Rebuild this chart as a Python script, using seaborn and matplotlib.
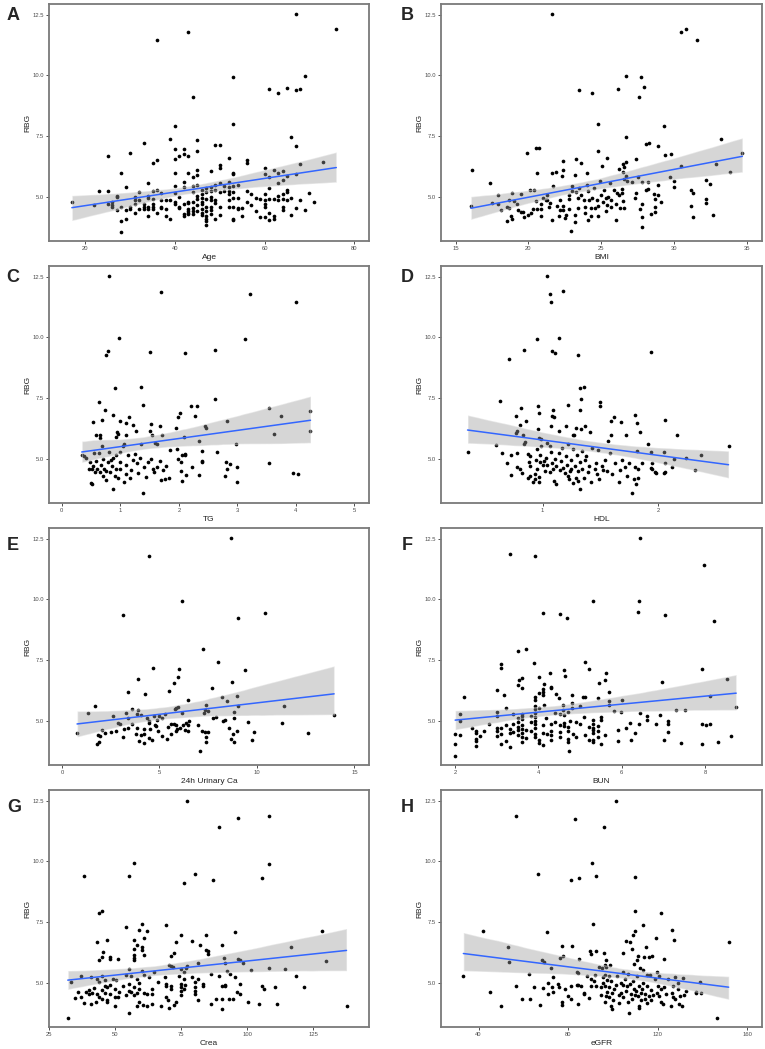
import numpy as np
import pandas as pd
import seaborn as sns
import matplotlib.pyplot as plt

# (x, RBG) pairs
age_rbg = [(17,4.80),(36,11.45),(43,11.80),(44,9.13),(53,9.94),(53,7.98),(67,12.53),(76,11.90),(69,9.98),(61,9.42),(63,9.27),(65,9.50),(67,9.38),(68,9.43),
    (40,7.90),(39,7.40),(33,7.20),(25,6.70),(30,6.80),(28,6.00),(35,6.40),(36,6.50),(45,7.35),(45,6.90),(43,6.70),(42,6.75),(41,6.70),(42,6.95),(40,6.95),(49,7.15),(50,7.15),(40,6.55),(40,6.00),(43,6.00),(45,6.10),(45,5.90),(44,5.80),(48,6.05),(50,6.30),(50,6.20),(52,6.60),(53,6.00),(53,5.95),(56,6.50),(56,6.40),(60,6.20),(60,5.95),(62,6.10),(63,6.00),(64,6.05),(61,5.80),(66,7.45),(67,7.10),(67,5.95),(68,6.35),(73,6.45),
    (29,5.40),(23,5.25),(25,5.25),(27,5.05),(27,5.00),(22,4.65),(25,4.70),(26,4.80),(26,4.65),(26,4.60),(27,4.45),(28,4.60),(28,4.00),(28,3.55),(29,4.45),(29,4.10),(30,4.60),(30,4.50),(31,5.00),(31,4.85),(31,4.70),(31,4.35),(32,5.20),(32,4.85),(32,4.50),(33,4.70),(33,4.60),(33,4.50),(34,5.55),(34,5.05),(34,4.95),(34,4.60),(34,4.50),(34,4.20),(35,5.25),(35,4.90),(35,4.70),(35,4.60),(35,4.50),(36,5.30),(36,4.35),(37,5.15),(37,4.85),(37,4.60),(37,4.55),(38,4.85),(38,4.50),(38,4.20),(39,4.85),(39,4.10),(40,5.45),(40,5.15),(40,4.80),(40,4.70),(41,4.60),(41,4.55),(41,5.00),(42,5.60),(42,5.40),(42,4.70),(42,4.30),(42,4.20),(43,4.80),(43,4.75),(43,4.50),(43,4.40),(43,4.35),(43,4.30),(44,5.45),(44,5.20),(44,4.80),(44,4.55),(44,4.40),(44,4.30),(45,5.50),(45,5.05),(45,4.90),(45,4.65),(45,4.40),(46,5.30),(46,5.10),(46,4.95),(46,4.80),(46,4.70),(46,4.50),(46,4.35),(46,4.25),(47,5.35),(47,5.20),(47,4.90),(47,4.60),(47,4.40),(47,4.20),(47,4.10),(47,4.00),(47,3.85),(48,5.40),(48,5.25),(48,5.00),(48,4.85),(48,4.60),(48,4.45),(48,4.30),(49,5.50),(49,5.30),(49,4.85),(49,4.75),(49,4.10),(50,5.55),(50,5.20),(50,4.60),(50,4.25),(51,5.45),(51,5.25),(52,5.60),(52,5.40),(52,5.25),(52,5.10),(52,4.85),(52,4.60),(53,5.45),(53,5.20),(53,4.95),(53,4.60),(53,4.10),(53,4.05),(54,5.50),(54,4.95),(54,4.55),(54,4.50),(55,4.55),(55,4.20),(56,5.25),(56,4.80),(57,5.10),(57,4.65),(58,4.40),(58,4.95),(59,4.15),(59,4.90),(60,5.10),(60,4.85),(60,4.70),(60,4.60),(60,4.15),(61,5.35),(61,4.90),(61,4.35),(61,4.05),(62,4.90),(62,4.20),(62,4.10),(63,5.55),(63,5.05),(63,4.85),(64,5.70),(64,5.10),(64,4.90),(64,4.60),(64,4.45),(65,5.85),(65,5.30),(65,5.20),(65,4.85),(66,4.95),(66,4.25),(67,4.55),(68,4.85),(69,4.45),(70,5.15),(71,4.80)]

bmi_rbg = [(21.65,12.53),(30.52,11.79),(30.80,11.89),(31.60,11.45),(26.68,9.98),(27.73,9.94),(23.46,9.40),(24.40,9.28),(26.18,9.43),(27.96,9.51),(27.60,9.13),(24.78,7.98),(29.33,7.91),(26.70,7.46),(33.24,7.40),(28.10,7.17),(28.30,7.20),(28.90,7.11),(20.55,6.99),(20.75,6.99),(19.90,6.80),(24.80,6.88),(29.40,6.73),(29.80,6.76),(34.70,6.80),(16.14,6.10),(22.40,6.48),(23.30,6.55),(23.60,6.39),(25.03,6.26),(25.40,6.60),(26.47,6.34),(26.70,6.42),(26.60,6.22),(26.50,6.04),(26.20,6.14),(27.37,6.55),(30.50,6.28),(32.87,6.34),(33.86,6.03),(29.70,5.82),(30.00,5.67),(30.00,5.40),(32.17,5.70),(32.50,5.54),(31.18,5.26),(31.30,5.15),(32.20,4.89),(32.20,4.73),(31.20,4.64),(31.30,4.16),(32.70,4.27),
    (17.38,5.55),(16.05,4.63),(17.50,4.73),(17.90,5.07),(17.90,4.72),(18.10,4.44),(18.50,4.57),(18.70,4.88),(18.70,4.53),(18.50,4.00),(18.80,4.19),(18.90,5.16),(18.90,4.07),(19.00,4.81),(19.20,4.71),(19.30,4.44),(19.60,4.37),(19.50,4.39),(19.70,4.15),(19.50,5.12),(20.10,5.26),(20.00,4.25),(20.30,4.48),(20.20,4.33),(20.40,5.27),(20.50,4.84),(20.60,4.48),(20.60,5.97),(20.90,4.70),(20.90,4.51),(20.90,4.22),(21.00,4.95),(21.20,4.85),(21.30,5.07),(21.30,4.86),(21.40,4.60),(21.50,4.73),(21.60,4.05),(21.70,5.43),(21.60,5.97),(21.90,6.03),(22.00,4.63),(22.10,4.22),(22.20,4.86),(22.20,4.47),(22.30,5.86),(22.40,6.12),(22.40,4.45),(22.40,4.63),(22.50,4.14),(22.60,4.24),(22.80,5.08),(22.80,4.90),(22.80,4.51),(22.90,3.60),(23.00,5.45),(23.00,5.23),(23.20,4.27),(23.20,3.97),(23.20,5.90),(23.30,5.19),(23.40,4.95),(23.40,4.54),(23.50,5.37),(23.60,5.08),(23.80,4.86),(23.90,4.60),(23.90,4.34),(24.10,4.03),(24.00,5.97),(24.00,5.48),(24.10,5.22),(24.20,4.85),(24.30,4.53),(24.30,4.19),(24.40,4.96),(24.50,5.37),(24.60,4.55),(24.70,4.86),(24.80,4.63),(24.80,4.19),(24.90,5.64),(25.00,5.07),(25.10,4.77),(25.20,5.26),(25.30,4.96),(25.30,4.40),(25.40,4.66),(25.50,5.00),(25.60,5.56),(25.70,4.60),(25.70,4.88),(25.90,5.26),(26.00,4.04),(26.00,4.71),(26.10,5.15),(26.20,5.08),(26.30,4.54),(26.40,5.14),(26.40,5.34),(26.50,4.84),(26.60,4.54),(26.60,5.73),(26.70,5.84),(26.80,5.67),(27.10,5.59),(27.30,4.97),(27.40,5.15),(27.50,5.80),(27.80,5.59),(27.80,4.72),(27.70,4.50),(27.80,4.15),(27.80,3.77),(28.10,5.26),(28.20,5.32),(28.20,5.62),(28.40,4.30),(28.60,5.12),(28.70,4.92),(28.70,4.60),(28.70,4.38),(28.90,5.08),(28.90,5.49),(29.10,4.77)]

tg_rbg = [(0.81,12.53),(1.70,11.87),(3.21,11.79),(4.00,11.45),(0.97,9.98),(3.13,9.92),(0.79,9.43),(0.75,9.27),(1.50,9.40),(2.11,9.35),(2.62,9.50),(0.91,7.90),(1.35,7.96),(0.64,7.33),(0.73,6.99),(1.38,7.20),(2.62,7.46),(2.20,7.17),(2.31,7.17),(2.27,6.77),(2.02,6.90),(1.99,6.71),(3.54,7.11),(4.25,6.98),(3.75,6.76),(4.24,6.15),(3.62,6.03),(2.82,6.55),(2.44,6.34),(2.46,6.28),(1.95,6.25),(1.67,6.36),(1.53,6.43),(1.51,6.14),(0.88,6.81),(1.10,6.48),(1.14,6.71),(0.68,6.59),(0.54,6.50),(0.99,6.55),(1.22,6.39),(1.26,6.14),(0.95,6.11),(0.96,6.04),(0.58,5.97),(0.65,6.00),(0.92,5.88),(1.10,5.97),(1.54,5.97),(1.59,5.66),(1.62,5.59),(1.71,5.97),(2.08,5.88),(0.66,5.86),(0.68,5.53),(2.35,5.75),(2.97,5.60),(2.65,5.29),(2.39,5.32),(2.81,4.88),(2.82,4.60),(2.87,4.79),(2.79,4.31),(3.00,4.68),(3.00,4.03),(3.54,4.82),(3.95,4.42),(4.04,4.37),
    (2.35,4.33),(2.40,4.93),(2.39,4.86),(2.22,4.66),(2.13,4.33),(2.03,4.48),(2.05,4.09),(2.10,5.19),(2.11,5.14),(2.06,5.15),(2.03,4.86),(1.99,5.00),(1.96,5.40),(1.85,5.37),(1.83,4.23),(1.77,4.16),(1.70,4.12),(1.78,4.71),(1.73,4.55),(1.67,4.92),(1.63,4.66),(1.58,4.45),(1.55,4.60),(1.53,5.01),(1.47,4.86),(1.43,4.24),(1.41,4.66),(1.38,3.59),(1.36,5.59),(1.33,5.05),(1.30,4.42),(1.28,4.84),(1.25,5.19),(1.21,4.95),(1.19,4.53),(1.16,4.19),(1.13,5.15),(1.10,4.75),(1.09,4.38),(1.07,4.05),(1.05,5.52),(1.06,5.60),(1.00,5.30),(0.99,4.86),(0.99,4.56),(0.96,4.19),(0.93,5.15),(0.92,4.60),(0.91,4.30),(0.88,3.75),(0.87,5.04),(0.86,4.71),(0.84,4.95),(0.83,4.45),(0.80,5.30),(0.78,4.86),(0.76,4.51),(0.75,4.14),(0.72,4.60),(0.70,4.30),(0.70,5.00),(0.67,4.75),(0.65,4.44),(0.63,5.22),(0.60,4.60),(0.58,4.92),(0.56,4.44),(0.55,5.25),(0.53,4.71),(0.51,4.56),(0.50,3.99),(0.52,3.97),(0.48,4.86),(0.46,4.60),(0.38,5.10),(0.34,5.14),(0.41,5.05)]

hdl_rbg = [(1.04,12.53),(1.06,11.79),(1.18,11.89),(1.07,11.45),(0.95,9.94),(1.14,9.98),(1.08,9.43),(1.11,9.36),(0.84,9.50),(0.71,9.12),(1.31,9.27),(1.94,9.40),(1.32,7.91),(1.36,7.96),(1.33,7.46),(0.63,7.40),(1.50,7.32),(1.50,7.17),(1.22,7.20),(0.81,7.11),(0.96,7.17),(1.32,6.99),(1.09,6.99),(1.08,6.77),(1.10,6.71),(0.97,6.87),(0.77,6.76),(0.86,6.55),(0.80,6.41),(1.62,6.73),(1.59,6.56),(1.68,6.50),(1.80,6.80),(1.82,6.47),(2.06,6.59),(0.78,6.15),(0.77,6.08),(0.96,6.21),(1.07,6.34),(1.20,6.36),(1.29,6.28),(1.33,6.24),(1.37,6.37),(1.41,6.11),(1.26,6.00),(1.27,5.96),(0.83,5.96),(0.85,5.70),(0.97,5.84),(0.99,5.80),(1.14,6.15),(1.59,6.00),(1.57,5.75),(1.72,5.99),(1.84,6.10),(1.91,5.59),(2.16,5.96),(2.61,5.52),
    (0.35,5.27),(0.60,5.56),(0.65,5.22),(0.73,5.15),(0.69,4.81),(0.73,4.35),(0.78,5.23),(0.78,4.67),(0.80,4.59),(0.82,4.42),(0.84,5.59),(0.87,5.19),(0.88,4.86),(0.87,4.20),(0.89,5.10),(0.89,4.71),(0.89,4.30),(0.92,4.05),(0.93,4.15),(0.93,4.38),(0.94,4.94),(0.95,5.41),(0.95,4.59),(0.97,4.25),(0.97,4.05),(0.98,5.15),(0.98,4.88),(0.99,5.51),(1.00,4.74),(1.01,4.92),(1.02,4.49),(1.03,5.05),(1.04,4.75),(1.04,5.65),(1.06,5.52),(1.06,4.45),(1.07,5.29),(1.08,4.81),(1.09,4.60),(1.10,4.10),(1.11,5.00),(1.12,4.70),(1.12,3.98),(1.14,5.25),(1.15,4.55),(1.16,4.92),(1.17,5.45),(1.18,4.64),(1.19,4.40),(1.20,5.12),(1.21,4.75),(1.22,5.62),(1.22,4.30),(1.23,4.15),(1.24,4.49),(1.25,4.96),(1.25,4.60),(1.26,5.40),(1.26,3.99),(1.28,4.71),(1.29,4.20),(1.30,5.15),(1.31,4.49),(1.31,4.10),(1.32,4.86),(1.32,3.75),(1.34,4.60),(1.34,5.31),(1.36,4.23),(1.37,4.96),(1.38,5.12),(1.39,4.44),(1.40,4.70),(1.42,4.05),(1.43,5.45),(1.45,4.60),(1.46,4.84),(1.47,4.38),(1.48,5.37),(1.49,4.15),(1.51,4.71),(1.52,4.55),(1.54,4.96),(1.56,4.49),(1.58,5.25),(1.60,4.38),(1.63,4.82),(1.66,4.04),(1.67,4.55),(1.69,4.96),(1.71,4.66),(1.73,4.30),(1.75,4.84),(1.77,3.60),(1.79,4.18),(1.80,4.66),(1.81,3.96),(1.82,5.34),(1.83,4.59),(1.83,4.22),(1.86,4.84),(1.94,5.26),(1.95,4.81),(1.94,4.63),(1.95,4.58),(1.97,4.44),(1.98,4.41),(2.05,5.27),(2.06,4.81),(2.05,4.40),(2.06,4.45),(2.12,4.66),(2.14,5.00),(2.24,5.05),(2.32,4.55),(2.37,5.15)]

uca_rbg = [(8.67,12.52),(4.45,11.78),(6.13,9.92),(3.11,9.36),(9.03,9.25),(10.39,9.43),(7.24,7.96),(7.99,7.44),(4.66,7.18),(6.01,7.15),(9.39,7.11),(5.96,6.80),(3.91,6.71),(5.73,6.55),(8.70,6.58),(7.68,6.37),(5.51,6.23),(3.36,6.18),(4.27,6.10),(8.23,6.00),(8.99,6.03),(6.47,5.84),(8.45,5.80),(7.39,5.67),(9.01,5.59),(11.38,5.59),(13.96,5.25),(11.30,4.90),(12.63,4.49),(9.56,4.96),(9.86,4.53),(9.76,4.19),(8.82,4.11),(8.67,4.27),(8.75,4.44),(8.96,4.60),(8.82,5.12),(8.80,5.36),(8.58,4.71),(8.26,5.01),(8.36,5.03),(7.92,5.15),(7.75,5.12),(7.51,5.41),(7.32,5.45),(7.27,5.34),(7.08,3.75),(7.37,4.14),(7.37,4.33),(7.32,4.52),(7.47,4.53),(7.18,4.59),(6.98,4.82),
    (6.52,4.99),(6.48,4.81),(6.37,4.90),(6.48,4.57),(6.21,4.82),(6.18,5.33),(6.31,4.62),(6.04,4.71),(5.96,5.56),(5.87,5.52),(5.79,5.49),(5.92,4.67),(5.87,4.60),(5.84,4.82),(5.75,4.86),(5.61,4.85),(5.58,4.47),(5.44,4.74),(5.39,4.26),(5.29,5.26),(5.15,4.37),(5.12,5.11),(4.98,5.18),(4.85,5.04),(4.91,4.57),(4.80,4.79),(4.76,4.84),(4.71,5.19),(4.64,4.22),(4.50,4.66),(4.45,4.90),(4.45,5.00),(4.45,4.30),(4.37,5.10),(4.22,4.47),(4.23,4.08),(4.20,4.68),(4.03,5.22),(4.06,4.42),(3.96,4.16),(3.89,5.45),(3.87,5.26),(3.82,4.70),(3.77,4.47),(3.58,4.86),(3.60,5.48),(3.36,5.12),(3.40,4.71),(3.28,5.34),(3.17,4.68),(3.11,4.33),(2.95,4.88),(2.88,4.90),(2.75,4.59),(2.59,5.18),(2.53,4.52),(2.18,4.48),(2.05,4.64),(1.93,4.36),(1.83,4.41),(1.77,4.05),(1.88,4.11),(1.69,5.62),(1.35,5.32),(0.77,4.49)]

bun_rbg = [(6.44,12.52),(3.31,11.87),(3.91,11.78),(7.97,11.43),(5.31,9.95),(6.41,9.92),(6.40,9.49),(4.11,9.43),(4.52,9.39),(4.68,9.25),(7.03,9.36),(8.21,9.12),(3.50,7.88),(3.70,7.96),(3.90,7.39),(5.11,7.44),(3.11,7.32),(3.11,7.18),(5.21,7.15),(4.61,7.11),(4.28,6.98),(5.62,6.98),(4.63,6.85),(3.54,6.70),(3.60,6.77),(4.01,6.80),(5.60,6.70),(7.92,7.15),(8.52,6.73),(6.98,6.59),(5.45,6.55),(3.50,6.48),(3.60,6.34),(4.13,6.52),(4.30,6.41),(4.31,6.34),(4.10,6.30),(4.10,6.18),(4.11,6.08),(3.00,6.25),(2.21,6.00),(3.17,6.08),(4.02,6.14),(3.91,5.96),(3.91,5.84),(3.91,5.63),(4.42,6.11),(4.50,5.95),(4.80,6.08),(5.06,6.00),(5.11,5.96),(5.42,5.95),(5.70,6.18),(5.70,5.80),(5.70,5.65),(6.00,5.85),(4.60,5.66),(4.80,5.75),(4.80,5.52),(4.60,5.45),(4.13,5.67),(5.00,5.59),(3.22,5.52),
    (3.60,5.30),(3.60,5.18),(3.60,5.08),(3.01,5.36),(3.01,5.18),(2.11,5.26),(2.11,5.00),(3.50,5.11),(3.50,4.97),(3.40,5.29),(3.81,5.19),(3.91,5.16),(3.91,5.48),(3.91,5.31),(4.02,5.52),(4.18,5.12),(4.41,5.32),(4.51,5.26),(4.62,5.22),(4.76,4.99),(4.70,5.36),(5.10,5.15),(5.31,5.04),(5.50,5.15),(5.50,5.04),(5.81,5.40),(5.98,5.38),(6.43,5.34),(6.61,5.19),(6.61,5.04),(6.41,4.88),(6.21,4.92),(6.10,4.70),(6.32,4.49),(6.22,4.20),(5.91,4.64),(5.91,4.15),(5.61,4.42),(5.51,4.03),(5.42,4.59),(5.42,4.35),(5.42,4.80),(5.30,4.88),(5.31,4.49),(5.31,4.62),(5.31,4.70),(5.31,4.23),(5.31,4.14),(5.21,4.23),(5.21,4.75),(5.11,4.41),(5.00,4.88),(4.90,4.95),(4.91,4.34),(4.82,4.44),(4.72,4.26),(4.72,4.11),(4.74,3.75),(4.72,4.60),(4.72,4.74),(4.62,4.89),(4.62,4.77),(4.51,4.55),(4.51,4.32),(4.51,4.82),(4.41,4.95),(4.30,4.60),(4.30,4.41),(4.30,4.23),(4.30,4.85),(4.21,4.44),(4.11,4.49),(4.11,4.01),(4.11,4.81),(4.02,4.09),(4.02,4.19),(3.91,4.34),(3.91,4.47),(3.91,4.71),(3.91,4.85),(3.91,5.01),(3.81,4.60),(3.81,4.96),(3.70,4.62),(3.70,4.29),(3.60,4.14),(3.60,4.33),(3.60,4.51),(3.60,4.66),(3.60,4.81),(3.50,4.42),(3.50,4.62),(3.50,4.75),(3.40,4.55),(3.40,4.86),(3.31,3.94),(3.31,4.51),(3.31,4.66),(3.22,4.16),(3.22,4.81),(3.11,4.04),(3.11,4.44),(3.11,4.70),(3.01,4.37),(3.01,4.59),(3.01,4.70),(2.82,4.88),(2.70,4.59),(2.60,4.38),(2.51,4.59),(2.51,4.49),(2.51,4.26),(2.51,4.15),(2.51,3.97),(2.40,4.71),(2.11,4.40),(2.00,4.44),(2.00,4.05),(2.00,3.57),
    (7.42,4.09),(7.31,5.45),(7.51,5.45),(6.91,5.23),(6.82,4.88),(7.11,5.00),(7.11,4.86),(7.11,4.53),(7.02,4.22),(7.92,4.85),(8.02,4.81),(8.13,4.86),(7.92,4.04),(8.13,6.03),(8.32,4.11),(8.62,4.36),(8.75,5.55)]

crea_rbg = [(77.1,12.50),(96.3,11.78),(108.2,11.86),(89.2,11.42),(57.1,9.95),(108.2,9.91),(38.1,9.39),(55.2,9.40),(80.3,9.49),(76.1,9.10),(87.1,9.24),(105.4,9.33),(44.0,7.88),(45.2,7.95),(60.3,7.44),(69.1,7.37),(54.2,7.30),(59.1,7.18),(62.0,7.13),(95.3,7.09),(128.4,7.14),(75.1,6.98),(84.2,6.98),(61.0,6.85),(57.0,6.77),(43.0,6.70),(47.0,6.78),(73.2,6.69),(79.2,6.73),(58.1,6.56),(82.2,6.54),(90.4,6.54),(57.0,6.41),(60.1,6.48),(60.2,6.34),(84.3,6.36),(85.0,6.31),(116.6,6.47),(72.1,6.22),(45.3,6.26),(45.0,6.08),(57.1,6.15),(57.1,6.03),(57.1,5.95),(61.0,6.14),(48.0,6.06),(48.2,6.00),(51.0,5.96),(44.0,5.95),(71.1,6.10),(85.3,6.17),(91.2,6.02),(96.3,6.00),(97.3,5.93),(98.3,5.81),(91.5,5.82),(81.2,5.80),(129.7,5.88),(108.2,5.59),(114.4,5.55),(101.2,5.54),(118.3,5.26),(121.3,4.84),(137.5,4.03),(110.3,4.81),(106.4,4.73),(105.5,4.88),(104.3,4.12),(111.3,4.11),(100.3,4.23),
    (97.3,4.96),(96.2,4.64),(97.2,4.55),(95.3,5.25),(93.3,5.36),(92.4,5.47),(91.4,4.92),(91.4,4.85),(90.4,4.88),(93.1,4.33),(94.4,4.33),(90.4,4.33),(88.3,4.35),(90.4,3.94),(86.1,4.14),(86.1,5.37),(89.2,5.29),(83.2,4.88),(83.2,4.95),(81.3,4.30),(80.2,4.67),(80.2,4.55),(80.2,4.81),(80.3,5.05),(81.2,5.15),(79.2,5.22),(76.9,5.62),(77.1,5.70),(76.1,5.45),(76.1,5.15),(76.3,4.90),(76.1,4.75),(75.1,5.56),(75.1,4.95),(75.1,4.81),(75.1,4.66),(75.1,4.51),(74.1,5.29),(73.1,4.22),(71.9,5.66),(72.1,4.07),(71.1,5.71),(71.1,4.75),(71.0,4.86),(70.2,5.74),(70.1,4.31),(69.2,4.96),(69.2,4.88),(69.1,4.42),(70.2,3.96),(69.0,5.23),(67.2,4.05),(66.1,5.04),(64.8,5.45),(64.0,4.74),(64.0,4.52),(64.1,4.14),(63.0,5.22),(62.0,4.52),(62.0,4.03),(61.0,5.34),(61.0,4.60),(60.4,4.09),(60.0,5.48),(59.1,5.00),(59.1,4.75),(59.1,4.19),(58.1,5.15),(58.1,4.60),(58.1,4.04),(57.1,4.81),(57.1,4.51),(56.1,5.26),(56.1,4.63),(55.1,5.56),(55.2,4.97),(55.1,4.66),(55.1,3.74),(54.1,5.32),(54.1,4.51),(53.1,4.86),(51.3,4.62),(51.2,4.42),(50.4,5.11),(49.8,4.74),(49.8,4.40),(49.9,4.05),(49.1,5.15),(48.0,4.55),(48.0,4.93),(47.0,4.84),(47.0,4.19),(47.0,4.30),(46.0,5.11),(46.0,4.60),(46.0,4.88),(45.0,5.29),(45.0,4.71),(45.0,4.33),(44.0,5.05),(44.0,4.40),(43.0,4.52),(43.0,5.15),(42.9,4.19),(42.0,4.79),(41.0,5.23),(41.1,4.60),(41.0,4.11),(40.0,4.71),(40.0,4.55),(39.0,4.64),(38.1,4.18),(37.0,5.29),(37.0,4.42),(36.1,4.64),(35.0,4.38),(33.2,5.04),(32.1,3.56)]

egfr_rbg = [(101.6,12.50),(56.7,11.85),(82.9,11.76),(96.1,11.41),(90.9,9.94),(66.5,9.47),(81.1,9.24),(84.8,9.33),(92.5,9.40),(110.1,9.36),(110.1,7.95),(121.4,7.88),(91.2,7.43),(113.5,7.37),(41.9,7.14),(70.8,7.09),(109.8,7.13),(108.9,6.98),(126.3,7.18),(127.5,6.78),(151.8,6.69),(105.9,6.71),(107.7,6.69),(119.3,6.84),(53.2,6.47),(77.1,6.51),(81.8,6.51),(89.9,6.33),(90.4,6.19),(92.7,6.32),(96.1,6.22),(104.7,6.22),(108.8,6.41),(114.9,6.47),(114.1,6.07),(116.3,6.07),(117.5,6.11),(111.0,5.95),(111.1,6.10),(122.9,5.97),(76.5,6.02),(77.6,6.10),(84.8,6.00),(68.4,5.95),(69.2,5.84),(53.7,5.86),(72.3,5.59),(84.0,5.45),(84.6,5.41),(96.8,5.95),(96.5,5.74),(95.1,5.63),(97.0,5.67),(98.8,5.74),(104.4,5.44),(106.7,5.36),(109.5,5.77),(112.3,5.59),(113.3,5.54),(115.1,5.34),(116.8,5.34),(118.9,5.16),(119.6,5.45),(120.5,5.30),(122.9,4.84),(124.7,5.15),(127.8,5.25),(129.1,5.00),(131.5,5.18),(132.9,4.68),(137.0,4.63),(137.3,4.58),(139.1,5.03),(139.3,4.60),(146.8,3.56),
    (33.2,5.30),(45.1,4.63),(50.0,4.03),(56.7,4.85),(59.2,4.33),(62.6,5.38),(62.8,4.33),(64.9,4.82),(67.5,4.09),(68.6,4.79),(71.0,4.53),(71.0,5.00),(73.2,5.25),(72.6,4.82),(73.3,4.64),(75.7,4.96),(75.9,4.81),(77.1,4.19),(77.1,4.08),(78.5,4.74),(80.0,4.47),(81.4,4.33),(81.2,4.88),(83.8,4.93),(84.4,4.90),(84.6,4.12),(85.8,4.88),(87.0,4.53),(87.3,4.60),(88.4,5.26),(89.4,4.37),(90.3,4.86),(90.4,5.15),(91.6,5.07),(92.2,5.34),(92.7,4.86),(93.7,5.66),(94.6,4.81),(94.6,4.50),(95.5,5.22),(95.5,5.00),(96.3,4.23),(96.7,4.86),(97.0,4.45),(96.7,5.34),(97.6,4.64),(97.5,5.12),(98.3,4.41),(98.3,5.27),(98.3,4.82),(99.7,4.60),(99.4,4.03),(99.7,3.94),(99.4,5.07),(100.3,4.29),(100.6,4.75),(101.9,5.26),(101.6,4.92),(102.6,4.51),(102.6,4.15),(103.5,5.00),(103.8,4.60),(104.4,4.90),(104.7,4.41),(105.5,5.15),(105.9,4.66),(106.5,4.86),(106.8,4.23),(107.3,3.75),(107.7,4.96),(108.0,4.55),(108.6,4.33),(108.9,5.07),(109.5,4.74),(109.8,4.49),(110.4,4.66),(110.6,5.26),(111.3,4.44),(111.6,3.98),(111.6,4.86),(112.5,4.60),(112.5,4.30),(111.9,4.03),(113.1,4.74),(113.5,5.00),(114.3,4.55),(114.4,4.33),(115.3,4.18),(115.1,4.86),(116.0,4.44),(116.9,4.29),(117.2,4.71),(118.1,4.49),(119.8,4.60),(120.2,4.86),(120.5,4.44),(121.7,4.22),(121.4,4.74),(122.6,4.12),(123.8,4.55),(125.9,4.03),(126.5,4.60),(126.8,4.41),(127.1,4.85),(127.9,4.33),(129.1,4.74),(129.4,4.14),(130.2,4.44),(130.9,4.03),(131.7,4.49)]

letters = ["A", "B", "C", "D", "E", "F", "G", "H"]
xlabels = ["Age", "BMI", "TG", "HDL", "24h Urinary Ca", "BUN", "Crea", "eGFR"]
datasets = [age_rbg, bmi_rbg, tg_rbg, hdl_rbg, uca_rbg, bun_rbg, crea_rbg, egfr_rbg]
xlims = [(11.9, 83.3), (14.0, 36.05), (-0.22, 5.25), (0.12, 2.90),
         (-0.67, 15.75), (1.66, 9.37), (25.0, 146.0), (23.2, 166.7)]
xticks = [[20, 40, 60, 80], [15, 20, 25, 30, 35], [0, 1, 2, 3, 4, 5], [1, 2],
          [0, 5, 10, 15], [2, 4, 6, 8], [25, 50, 75, 100, 125], [40, 80, 120, 160]]
yticks = [5.0, 7.5, 10.0, 12.5]

sns.set_style("white")
plt.rcParams['font.family'] = ['Liberation Sans', 'DejaVu Sans']

W, H = 765, 1049
fig = plt.figure(figsize=(W / 100, H / 100), dpi=100)

col_left = [49, 441]
col_w = [320, 321]
row_top = [4, 266, 528, 790]
ax_h = 237
letter_xy = [(13, 16), (407, 16), (13, 277), (407, 277),
             (13, 546), (407, 546), (14, 808), (407, 808)]

for i in range(8):
    r, c = divmod(i, 2)
    left, top = col_left[c], row_top[r]
    ax = fig.add_axes([left / W, 1 - (top + ax_h) / H, col_w[c] / W, ax_h / H])
    df = pd.DataFrame(datasets[i], columns=["x", "RBG"])

    sns.scatterplot(data=df, x="x", y="RBG", ax=ax, color="black", s=7,
                    linewidth=0, zorder=1)
    sns.regplot(data=df, x="x", y="RBG", ax=ax, scatter=False, color="#999999",
                seed=3, line_kws={"lw": 1.1})
    ax.lines[-1].set_color("#3366FF")
    band = ax.collections[-1]
    band.set_facecolor("#999999")
    band.set_alpha(0.4)

    ax.set_xlim(*xlims[i])
    ax.set_ylim(3.18, 12.94)
    ax.set_xticks(xticks[i])
    ax.set_yticks(yticks)
    ax.set_yticklabels([f"{v:.1f}" for v in yticks])
    ax.set_xlabel(xlabels[i], fontsize=6, color="#222222", labelpad=2.5)
    ax.set_ylabel("RBG", fontsize=6, color="#222222", labelpad=1)
    ax.tick_params(axis="both", which="both", direction="out", length=2,
                   width=0.6, color="#333333", labelsize=4.2,
                   labelcolor="#4d4d4d", pad=1.5, bottom=True, left=True)
    for sp in ax.spines.values():
        sp.set_color("#7a7a7a")
        sp.set_linewidth(1.3)

    lx, ly = letter_xy[i]
    fig.text(lx / W, 1 - ly / H, letters[i], fontsize=13, fontweight="bold",
             ha="center", va="center")

fig.savefig("out.png", dpi=100, facecolor="white")
